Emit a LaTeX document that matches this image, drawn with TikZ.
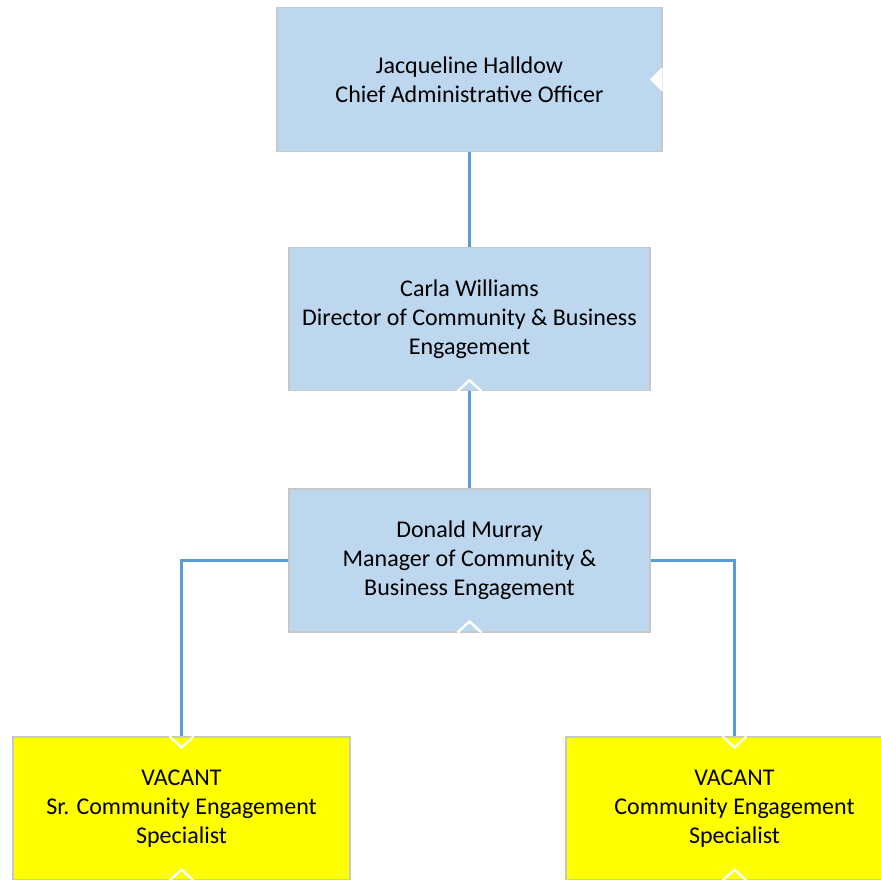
\documentclass[tikz,border=0pt]{standalone}
\usepackage{fontspec}
\setmainfont{Carlito}
\usetikzlibrary{positioning, calc}

\definecolor{boxblue}{HTML}{BDD7EE}
\definecolor{boxyellow}{HTML}{FFFF00}
\definecolor{linkblue}{HTML}{5B9BD5}
\definecolor{edgegray}{HTML}{C8C8C8}

\begin{document}
\begin{tikzpicture}[
    x=1pt, y=-1pt,
    node distance=96pt,
    orgbox/.style={draw=edgegray, line width=1.2pt, rectangle, fill=boxblue, text centered, align=center, inner sep=0pt, font=\fontsize{24}{29}\selectfont},
    topbox/.style={orgbox, minimum width=385pt, minimum height=144pt},
    midbox/.style={orgbox, minimum width=361pt, minimum height=143pt},
    vacant/.style={orgbox, fill=boxyellow, minimum width=337pt, minimum height=143pt},
    link/.style={draw=linkblue, line width=3.6pt},
    notch/.style={draw=white, line width=2.4pt}
]
\useasboundingbox (0,0) rectangle (881,879);

% --- Nodos ---

% Direccion
\node (ceo) [topbox] at (469.5,79.5) {Jacqueline Halldow\\Chief Administrative Officer};

\node (director) [midbox, below=95pt of ceo] {Carla Williams\\Director of Community \& Business\\Engagement};

\node (manager) [midbox, below=97pt of director] {Donald Murray\\Manager of Community \&\\Business Engagement};

% Puestos vacantes
\node (srspec) [vacant] at (181.5,808.5) {VACANT\\Sr. Community Engagement\\Specialist};
\node (spec) [vacant] at (734.5,808.5) {VACANT\\Community Engagement\\Specialist};

% --- Conexiones ---
\draw [link] (ceo) -- (director);
\draw [link] (director) -- (manager);
\draw [link] (manager.west) -| (srspec.north);
\draw [link] (manager.east) -| (spec.north);

% --- Marcas blancas ---
\fill [white] ($(ceo.east)+(0,-11)$) -- ++(-11,11) -- ++(11,11) -- cycle;
\draw [notch] ($(ceo.east)+(0,-11)$) -- ++(-11,11) -- ++(11,11);
\foreach \n in {director, manager, srspec, spec}
    \draw [notch] ($(\n.south)+(-12,0)$) -- ++(12,-11) -- ++(12,11);
\foreach \n in {srspec, spec}
    \draw [notch] ($(\n.north)+(-12,0)$) -- ++(12,11) -- ++(12,-11);

\end{tikzpicture}
\end{document}
